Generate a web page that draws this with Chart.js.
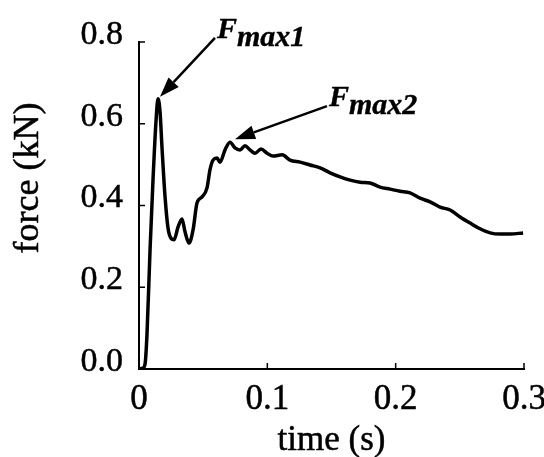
<!DOCTYPE html>
<html lang="en">
<head>
    <meta charset="UTF-8">
    <script src="https://cdn.jsdelivr.net/npm/chart.js"></script>
    <title>Force vs time</title>
    <style>
        body {
            margin: 0;
            background-color: #fff;
        }

        #box {
            width: 544px;
            height: 457px;
        }
    </style>
</head>
<body>
    <div id="box">
        <canvas id="forceChart" width="544" height="457"></canvas>
    </div>

    <script>
        // measured force curve
        const timeS = [
            0, 0.003, 0.0047, 0.0062, 0.0086, 0.0109, 0.0133, 0.0148, 0.0164, 0.0179,
            0.0203, 0.0226, 0.0249, 0.0273, 0.0304, 0.0335, 0.0359, 0.039, 0.0421, 0.0452,
            0.0491, 0.053, 0.0553, 0.0577, 0.0608, 0.0631, 0.067, 0.0709, 0.0748, 0.0787,
            0.0826, 0.0865, 0.0904, 0.0951, 0.0998, 0.1044, 0.1115, 0.1177, 0.1255, 0.1333,
            0.1411, 0.1489, 0.1567, 0.1645, 0.1723, 0.18, 0.1878, 0.1956, 0.2034, 0.2112,
            0.219, 0.2268, 0.2346, 0.2424, 0.2502, 0.258, 0.2658, 0.2736, 0.2814, 0.2892,
            0.2993
        ];
        const forceKN = [
            0, 0.002, 0.012, 0.083, 0.291, 0.462, 0.609, 0.661, 0.629, 0.543,
            0.421, 0.345, 0.32, 0.316, 0.347, 0.367, 0.335, 0.308, 0.34, 0.406,
            0.421, 0.443, 0.487, 0.511, 0.516, 0.506, 0.536, 0.555, 0.541, 0.536,
            0.546, 0.536, 0.528, 0.538, 0.528, 0.521, 0.524, 0.511, 0.506, 0.499,
            0.492, 0.48, 0.47, 0.462, 0.457, 0.455, 0.445, 0.44, 0.435, 0.431,
            0.418, 0.409, 0.396, 0.389, 0.372, 0.357, 0.343, 0.333, 0.33, 0.33,
            0.333
        ];
        const xTicks = [0, 0.1, 0.2, 0.3];
        const yTicks = [0, 0.2, 0.4, 0.6, 0.8];

        // peaks pointed at by the arrows
        const peakLabels = ['max1', 'max2'];
        const peakIndex = [7, 27];

        const serif = '"Liberation Serif", "Times New Roman", serif';

        // inward tick marks on both axes
        const innerTicks = {
            id: 'innerTicks',
            afterDatasetsDraw(chart) {
                const { ctx, scales: { x, y }, chartArea: a } = chart;
                ctx.save();
                ctx.strokeStyle = '#000';
                ctx.lineWidth = 1.5;
                ctx.beginPath();
                xTicks.forEach(v => {
                    if (v === 0) return;
                    const px = x.getPixelForValue(v);
                    ctx.moveTo(px, a.bottom);
                    ctx.lineTo(px, a.bottom - 6);
                });
                yTicks.forEach(v => {
                    if (v === 0) return;
                    const py = y.getPixelForValue(v);
                    ctx.moveTo(a.left, py);
                    ctx.lineTo(a.left + 6, py);
                });
                ctx.stroke();
                ctx.restore();
            }
        };

        // fill plus a thin stroke so the serif text reads a little heavier
        function heavyText(ctx, text, x, y) {
            ctx.fillText(text, x, y);
            ctx.strokeText(text, x, y);
        }

        // axis titles
        const axisTitles = {
            id: 'axisTitles',
            afterDraw(chart) {
                const { ctx, chartArea: a } = chart;
                ctx.save();
                ctx.fillStyle = '#000';
                ctx.strokeStyle = '#000';
                ctx.lineWidth = 0.5;
                ctx.textAlign = 'center';
                ctx.textBaseline = 'alphabetic';
                ctx.font = '35px ' + serif;
                heavyText(ctx, 'time (s)', (a.left + a.right) / 2, 450);
                ctx.translate(38, 178);
                ctx.rotate(-Math.PI / 2);
                ctx.font = '36px ' + serif;
                heavyText(ctx, 'force (kN)', 0, 0);
                ctx.restore();
            }
        };

        // arrows with F_max labels
        const peakArrows = {
            id: 'peakArrows',
            afterDraw(chart) {
                const { ctx, scales: { x, y } } = chart;
                const tails = [[57, -61], [97, -36]];
                const tipShift = [[2, -2], [5, -3]];
                ctx.save();
                ctx.fillStyle = '#000';
                ctx.strokeStyle = '#000';
                peakIndex.forEach((idx, i) => {
                    const px = x.getPixelForValue(timeS[idx]);
                    const py = y.getPixelForValue(forceKN[idx]);
                    const tx = px + tipShift[i][0], ty = py + tipShift[i][1];
                    const sx = px + tails[i][0], sy = py + tails[i][1];
                    const ang = Math.atan2(ty - sy, tx - sx);
                    const len = 20, half = 7;
                    const bx = tx - len * Math.cos(ang), by = ty - len * Math.sin(ang);
                    ctx.lineWidth = 2.5;
                    ctx.beginPath();
                    ctx.moveTo(sx, sy);
                    ctx.lineTo(bx, by);
                    ctx.stroke();
                    ctx.beginPath();
                    ctx.moveTo(tx, ty);
                    ctx.lineTo(bx + half * Math.sin(ang), by - half * Math.cos(ang));
                    ctx.lineTo(bx - half * Math.sin(ang), by + half * Math.cos(ang));
                    ctx.closePath();
                    ctx.fill();

                    // F with lowered subscript
                    ctx.textAlign = 'left';
                    ctx.textBaseline = 'alphabetic';
                    ctx.font = 'italic bold 30px ' + serif;
                    ctx.lineWidth = 0.4;
                    const fx = sx + 2, fy = sy;
                    heavyText(ctx, 'F', fx, fy);
                    const fw = ctx.measureText('F').width;
                    heavyText(ctx, peakLabels[i], fx + fw, fy + 8);
                });
                ctx.restore();
            }
        };

        const ctx = document.getElementById('forceChart').getContext('2d');
        const forceChart = new Chart(ctx, {
            type: 'line',
            data: {
                datasets: [{
                    data: timeS.map((t, i) => ({ x: t, y: forceKN[i] })),
                    borderColor: '#000',
                    borderWidth: 3.5,
                    pointRadius: 0,
                    fill: false,
                    cubicInterpolationMode: 'monotone'
                }]
            },
            options: {
                responsive: false,
                animation: false,
                events: [],
                layout: {
                    padding: { top: 42, right: 20, left: 0, bottom: 0 }
                },
                plugins: {
                    legend: { display: false },
                    tooltip: { enabled: false }
                },
                scales: {
                    x: {
                        type: 'linear',
                        min: 0,
                        max: 0.3,
                        afterBuildTicks: s => { s.ticks = xTicks.map(v => ({ value: v })); },
                        afterFit: s => { s.height = 88; s.paddingLeft = 0; s.paddingRight = 0; },
                        grid: { display: false, drawTicks: false, tickLength: 0 },
                        border: { display: true, color: '#000', width: 2 },
                        ticks: {
                            color: '#000',
                            textStrokeColor: '#000',
                            textStrokeWidth: 0.5,
                            padding: 10,
                            maxRotation: 0,
                            font: { family: serif, size: 35 },
                            callback: v => v === 0 ? '0' : v.toFixed(1)
                        }
                    },
                    y: {
                        min: 0,
                        max: 0.8,
                        afterBuildTicks: s => { s.ticks = yTicks.map(v => ({ value: v })); },
                        afterFit: s => { s.width = 139; s.paddingTop = 0; s.paddingBottom = 0; },
                        grid: { display: false, drawTicks: false, tickLength: 0 },
                        border: { display: true, color: '#000', width: 2 },
                        ticks: {
                            color: '#000',
                            textStrokeColor: '#000',
                            textStrokeWidth: 0.5,
                            padding: 16,
                            labelOffset: -7,
                            font: { family: serif, size: 34 },
                            callback: v => v.toFixed(1)
                        }
                    }
                }
            },
            plugins: [innerTicks, axisTitles, peakArrows]
        });
    </script>
</body>
</html>
